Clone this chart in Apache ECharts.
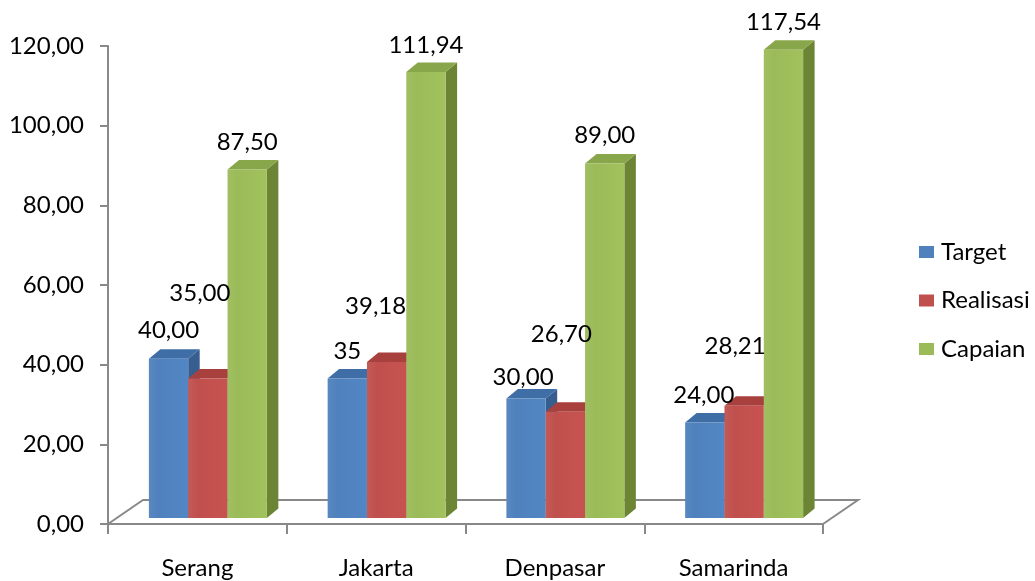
<!DOCTYPE html>
<html><head><meta charset="utf-8">
<script src="https://cdn.jsdelivr.net/npm/echarts@6/dist/echarts.min.js"></script>
<style>html,body{margin:0;padding:0;background:#fff}#c{width:1035px;height:581px}</style>
</head><body><div id="c"></div>
<script>
// ---- data ----
const categories = ['Serang', 'Jakarta', 'Denpasar', 'Samarinda'];
const seriesNames = ['Target', 'Realisasi', 'Capaian'];
const target = [40.00, 35, 30.00, 24.00];
const targetDecimals = [2, 0, 2, 2];
const realisasi = [35.00, 39.18, 26.70, 28.21];
const capaian = [87.50, 111.94, 89.00, 117.54];
const yMin = 0, yMax = 120, yStep = 20;

// ---- style / layout ----
const FONT = 'Lato';
const FS = 24;
const frontCol = ['#4F81BD', '#C0504D', '#9BBB59'];
const topCol = ['#3F6DA6', '#A8413E', '#88A64A'];
const sideCol = ['#365E8F', '#8F3734', '#6C8535'];
const BAR_FRAC = 0.22;     // bar width as part of category band
const GROUP_SHIFT = 10.5;  // px, depth shift of bars to the right
const LIFT = 6;            // px, depth shift of bars upward
const DX = 11.5, DY = 9.5; // bar depth
const FDX = 35, FDY = 24;  // floor depth
const AXIS_COL = '#898989';
// label offsets [dx, dy] relative to the top-front centre of each bar
const labelOffsets = [
  [[0, -28], [0, -27], [-3, -21], [-1, -27]],
  [[-8, -85], [-11, -56], [-4, -77], [-9, -59]],
  [[0, -27], [0, -27], [0, -28], [0, -28]]
];
const decimalsFor = [targetDecimals, [2, 2, 2, 2], [2, 2, 2, 2]];

function fmt(v, d) { return v.toFixed(d).replace('.', ','); }

function makeBarRender(k) {
  return function (params, api) {
    const idx = api.value(0);
    const val = api.value(1);
    const base = api.coord([idx, 0]);
    const topPt = api.coord([idx, val]);
    const band = api.size([1, 0])[0];
    const w = band * BAR_FRAC;
    const cx = base[0] + GROUP_SHIFT + (k - 1) * w;
    const x0 = cx - w / 2, x1 = cx + w / 2;
    const yb = base[1] - LIFT, yt = topPt[1] - LIFT;
    const off = labelOffsets[k][idx];
    return {
      type: 'group',
      children: [
        { type: 'polygon', shape: { points: [[x1, yt], [x1 + DX, yt - DY], [x1 + DX, yb - DY], [x1, yb]] },
          style: { fill: sideCol[k] } },
        { type: 'polygon', shape: { points: [[x0, yt], [x0 + DX, yt - DY], [x1 + DX, yt - DY], [x1, yt]] },
          style: { fill: topCol[k] } },
        { type: 'rect', shape: { x: x0, y: yt, width: w, height: yb - yt },
          style: { fill: {
            type: 'linear', x: 0, y: 0, x2: 1, y2: 0,
            colorStops: [
              { offset: 0, color: echarts.color.lift(frontCol[k], 0.06) },
              { offset: 0.25, color: frontCol[k] },
              { offset: 1, color: echarts.color.lift(frontCol[k], -0.04) }
            ] } } },
        { type: 'text', z2: 100,
          style: { text: fmt(val, decimalsFor[k][idx]), x: cx + off[0], y: yt + off[1],
            align: 'center', verticalAlign: 'middle', fontFamily: FONT, fontSize: FS, fill: '#000' } }
      ]
    };
  };
}

function renderFloor(params, api) {
  const cs = params.coordSys;
  const bx = cs.x, by = cs.y + cs.height, bw = cs.width;
  return {
    type: 'polyline',
    shape: { points: [[bx, by], [bx + FDX, by - FDY], [bx + bw + FDX, by - FDY], [bx + bw, by]] },
    style: { fill: null, stroke: AXIS_COL, lineWidth: 2 }
  };
}

const valueSets = [target, realisasi, capaian];
const series = [{
  type: 'custom', name: 'floor', renderItem: renderFloor, data: [[0, 0]], z: 1, silent: true
}];
valueSets.forEach((vals, k) => {
  series.push({
    type: 'custom', name: seriesNames[k], z: 2,
    itemStyle: { color: frontCol[k] },
    renderItem: makeBarRender(k),
    encode: { x: 0, y: 1 },
    data: vals.map((v, i) => [i, v])
  });
});

const chart = echarts.init(document.getElementById('c'), null, { renderer: 'canvas' });
chart.setOption({
  animation: false,
  backgroundColor: '#fff',
  grid: { left: 108, right: 212, top: 46, bottom: 57 },
  legend: {
    data: seriesNames, orient: 'vertical', left: 914, top: 235,
    itemWidth: 15, itemHeight: 12, itemGap: 24.5, icon: 'rect',
    textStyle: { fontFamily: FONT, fontSize: FS, color: '#000', padding: [0, 0, 0, 2] }
  },
  xAxis: {
    type: 'category', data: categories,
    axisLine: { show: true, lineStyle: { color: AXIS_COL, width: 2 } },
    axisTick: { show: true, length: 10, lineStyle: { color: AXIS_COL, width: 2 } },
    axisLabel: { margin: 32, fontFamily: FONT, fontSize: FS, color: '#000' },
    splitLine: { show: false }
  },
  yAxis: {
    type: 'value', min: yMin, max: yMax, interval: yStep,
    axisLine: { show: true, lineStyle: { color: AXIS_COL, width: 2 } },
    axisTick: { show: true, length: 8, lineStyle: { color: AXIS_COL, width: 2 } },
    axisLabel: { margin: 24, fontFamily: FONT, fontSize: FS, color: '#000',
      formatter: v => fmt(v, 2) },
    splitLine: { show: false }
  },
  series: series
});
</script></body></html>
